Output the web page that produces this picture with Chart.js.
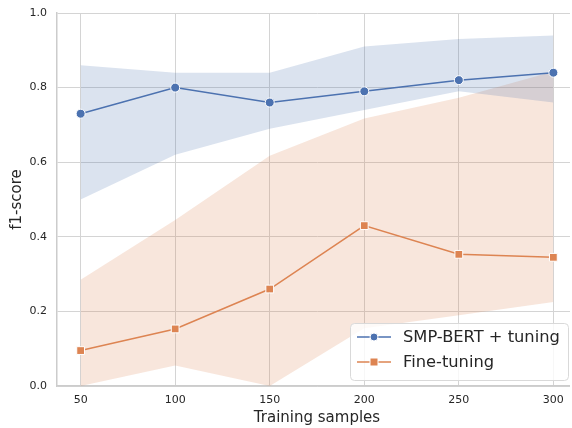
<!DOCTYPE html>
<html>
<head>
<meta charset="utf-8">
<script src="https://cdn.jsdelivr.net/npm/chart.js@4.4.1/dist/chart.umd.min.js"></script>
<style>
  html, body { margin: 0; padding: 0; background: #fff; overflow: hidden; }
  #wrap { width: 570px; height: 428px; overflow: hidden; }
</style>
</head>
<body>
<div id="wrap"><canvas id="chart" width="590" height="428"></canvas></div>
<script>
/* DATA */
const samples = [50, 100, 150, 200, 250, 300];
const yTicks = [0, 0.2, 0.4, 0.6, 0.8, 1.0];

const smpMean  = [0.73, 0.80, 0.76, 0.79, 0.82, 0.84];
const smpLow   = [0.50, 0.62, 0.69, 0.74, 0.79, 0.76];
const smpHigh  = [0.86, 0.84, 0.84, 0.91, 0.93, 0.94];

const ftMean   = [0.095, 0.153, 0.26, 0.43, 0.353, 0.345];
const ftLow    = [0.0, 0.055, 0.0, 0.155, 0.19, 0.225];
const ftHigh   = [0.285, 0.445, 0.617, 0.717, 0.773, 0.843];

const seriesNames = ["SMP-BERT + tuning", "Fine-tuning"];

/* COLOURS */
const blue = "#4c72b0";
const orange = "#dd8452";
const FONT = "'DejaVu Sans', sans-serif";
const TEXT = "#262626";
const GRID = "#d4d4d4";

function pts(xs, ys) {
    return xs.map((x, i) => ({ x: x, y: ys[i] }));
}

function band(data, color, fillTarget) {
    return {
        data: data,
        borderWidth: 0,
        pointRadius: 0,
        backgroundColor: color,
        fill: fillTarget === undefined ? false : { target: fillTarget },
        tension: 0
    };
}

/* custom legend: line - marker - line, like matplotlib */
const boxLegend = {
    id: "boxLegend",
    afterDraw(chart) {
        const ctx = chart.ctx;
        const x = 350.5, y = 323.5, w = 218, h = 57, r = 4;
        ctx.save();
        ctx.beginPath();
        ctx.roundRect(x, y, w, h, r);
        ctx.fillStyle = "rgba(255,255,255,0.8)";
        ctx.fill();
        ctx.strokeStyle = "#d9d9d9";
        ctx.lineWidth = 1;
        ctx.stroke();

        const rows = [
            { y: 337, color: blue, shape: "circle" },
            { y: 362, color: orange, shape: "square" }
        ];
        rows.forEach((row, i) => {
            ctx.strokeStyle = row.color;
            ctx.lineWidth = 1.5;
            ctx.beginPath();
            ctx.moveTo(357, row.y);
            ctx.lineTo(391, row.y);
            ctx.stroke();
            ctx.fillStyle = row.color;
            ctx.strokeStyle = "#fff";
            ctx.lineWidth = 1;
            ctx.beginPath();
            if (row.shape === "circle") {
                ctx.arc(374, row.y, 4, 0, Math.PI * 2);
            } else {
                ctx.rect(370, row.y - 4, 8, 8);
            }
            ctx.fill();
            ctx.stroke();
            ctx.fillStyle = TEXT;
            ctx.font = "16.3px " + FONT;
            ctx.textBaseline = "middle";
            ctx.textAlign = "left";
            ctx.fillText(seriesNames[i], 403, row.y + 1);
        });
        ctx.restore();
    }
};

const ctx = document.getElementById("chart");

new Chart(ctx, {
    type: "line",
    data: {
        datasets: [
            {
                label: seriesNames[0],
                data: pts(samples, smpMean),
                borderColor: blue,
                backgroundColor: blue,
                borderWidth: 1.5,
                pointStyle: "circle",
                pointRadius: 4.5,
                pointBorderColor: "#fff",
                pointBorderWidth: 1,
                fill: false
            },
            {
                label: seriesNames[1],
                data: pts(samples, ftMean),
                borderColor: orange,
                backgroundColor: orange,
                borderWidth: 1.5,
                pointStyle: "rect",
                pointRadius: 5.5,
                pointBorderColor: "#fff",
                pointBorderWidth: 1,
                fill: false
            },
            band(pts(samples, smpLow), "rgba(76,114,176,0.2)"),
            band(pts(samples, smpHigh), "rgba(76,114,176,0.2)", 2),
            band(pts(samples, ftLow), "rgba(221,132,82,0.2)"),
            band(pts(samples, ftHigh), "rgba(221,132,82,0.2)", 4)
        ]
    },
    options: {
        responsive: false,
        animation: false,
        layout: { autoPadding: false, padding: { left: 7, right: 13, top: 13, bottom: 0 } },
        plugins: {
            legend: { display: false },
            tooltip: { enabled: false }
        },
        scales: {
            x: {
                type: "linear",
                min: 37.5,
                max: 312.5,
                afterBuildTicks: (axis) => {
                    axis.ticks = samples.map(v => ({ value: v }));
                },
                afterFit: (axis) => {
                    axis.height = 42;
                    axis.paddingLeft = 0;
                    axis.paddingRight = 0;
                },
                grid: {
                    color: (c) => (c.tick && samples.includes(c.tick.value)) ? GRID : "rgba(0,0,0,0)",
                    lineWidth: 1,
                    tickLength: 0
                },
                border: { color: "#cccccc", width: 1.5 },
                ticks: {
                    color: TEXT,
                    font: { family: FONT, size: 11 },
                    padding: 8,
                    maxRotation: 0
                },
                title: {
                    display: true,
                    text: "Training samples",
                    color: TEXT,
                    font: { family: FONT, size: 15 },
                    padding: { top: 0, bottom: 1 }
                }
            },
            y: {
                type: "linear",
                min: 0,
                max: 1,
                afterBuildTicks: (axis) => {
                    axis.ticks = yTicks.map(v => ({ value: v }));
                },
                afterFit: (axis) => {
                    axis.width = 50;
                    axis.paddingTop = 0;
                    axis.paddingBottom = 0;
                },
                grid: { color: GRID, lineWidth: 1, tickLength: 0 },
                border: { color: "#cccccc", width: 1.5 },
                ticks: {
                    color: TEXT,
                    font: { family: FONT, size: 11 },
                    padding: 10,
                    callback: (v) => Number(v).toFixed(1)
                },
                title: {
                    display: true,
                    text: "f1-score",
                    color: TEXT,
                    font: { family: FONT, size: 15 },
                    padding: { top: 1, bottom: 0 }
                }
            }
        }
    },
    plugins: [boxLegend]
});
</script>
</body>
</html>
